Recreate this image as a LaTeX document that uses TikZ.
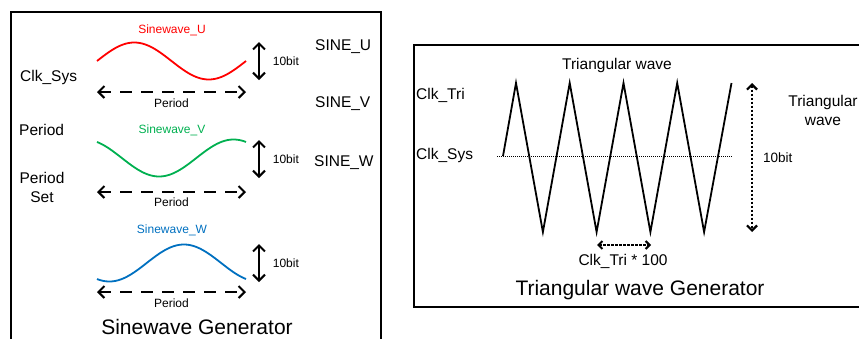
\documentclass[tikz,border=0pt]{standalone}
\usepackage{fontspec}
\setmainfont{Liberation Sans}
\usetikzlibrary{arrows.meta}

\definecolor{waveU}{RGB}{255,0,0}
\definecolor{waveV}{RGB}{0,176,80}
\definecolor{waveW}{RGB}{0,112,192}

\tikzset{
	panel/.style={draw, line width=2pt},
	wave/.style={line width=1.8pt},
	bitarrow/.style={<->, line width=1.8pt},
	periodarrow/.style={<->, line width=1.8pt, dash pattern=on 12pt off 9pt},
	dotarrow/.style={<->, line width=1.8pt, dash pattern=on 2pt off 2pt},
	bigtext/.style={font=\fontsize{21}{25}\selectfont},
	midtext/.style={font=\fontsize{15.5}{19}\selectfont},
	smalltext/.style={font=\fontsize{12}{14}\selectfont},
}

\begin{document}
\begin{tikzpicture}[x=1pt, y=-1pt, every node/.style={inner sep=0pt}, >={Straight Barb[length=6pt,width=12pt,line width=2pt]}]
	\useasboundingbox (0,0) rectangle (859,338);
	% sinewave generator
	\begin{scope}
		\draw[panel] (11,12) rectangle (381,352);
		\node[smalltext, text=waveU] (labU) at (172,30) {Sinewave\_U};
		\draw[wave, waveU] plot[domain=0:360, samples=73, smooth] ({97+\x/360*149}, {61-18.5*sin(\x)});
		\coordinate (uTop) at (259,42); \coordinate (uBot) at (259,80);
		\draw[bitarrow] (uTop) -- (uBot) node[midway, right=13pt, smalltext] (bitU) {10bit};
		\coordinate (pUa) at (97,92); \coordinate (pUb) at (246,92);
		\draw[periodarrow] (pUa) -- (pUb) node[midway, below=6pt, smalltext] (perU) {Period};

		\node[smalltext, text=waveV] (labV) at (172,130) {Sinewave\_V};
		\draw[wave, waveV] plot[domain=0:360, samples=73, smooth] ({97+\x/360*149}, {158-18.5*sin(\x+120)});
		\coordinate (vTop) at (259,140); \coordinate (vBot) at (259,178);
		\draw[bitarrow] (vTop) -- (vBot) node[midway, right=13pt, smalltext] (bitV) {10bit};
		\coordinate (pVa) at (97,192); \coordinate (pVb) at (246,192);
		\draw[periodarrow] (pVa) -- (pVb) node[midway, below=5pt, smalltext] (perV) {Period};

		\node[smalltext, text=waveW] (labW) at (172,230) {Sinewave\_W};
		\draw[wave, waveW] plot[domain=0:360, samples=73, smooth] ({97+\x/360*149}, {263-18.5*sin(\x+240)});
		\coordinate (wTop) at (259,244); \coordinate (wBot) at (259,282);
		\draw[bitarrow] (wTop) -- (wBot) node[midway, right=13pt, smalltext] (bitW) {10bit};
		\coordinate (pWa) at (97,292); \coordinate (pWb) at (246,292);
		\draw[periodarrow] (pWa) -- (pWb) node[midway, below=6pt, smalltext] (perW) {Period};

		\node[midtext, anchor=west] (clkSys) at (20,77) {Clk\_Sys};
		\node[midtext, anchor=west] (period) at (19,130) {Period};
		\node[midtext, align=center] (periodSet) at (42,187) {Period\\Set};
		\node[midtext, anchor=west] (sineU) at (315,47) {SINE\_U};
		\node[midtext, anchor=west] (sineV) at (315,104) {SINE\_V};
		\node[midtext, anchor=west] (sineW) at (314,163) {SINE\_W};
		\node[bigtext] (sineGen) at (197,327) {Sinewave Generator};
	\end{scope}
	% triangular wave generator
	\begin{scope}
		\draw[panel] (414,45) rectangle (880,307);
		\node[midtext] (triTitle) at (617,65) {Triangular wave};
		\node[midtext, anchor=west] (clkTri) at (416,95) {Clk\_Tri};
		\node[midtext, anchor=west] (clkSys2) at (416,155) {Clk\_Sys};
		\draw[line width=0.7pt, dash pattern=on 1pt off 1pt] (497,156) -- (733,156);
		\draw[wave, line join=miter] (503,156) -- (516,83) -- (542.9,232) -- (569.7,83) -- (596.6,232)
			-- (623.5,83) -- (650.4,232) -- (677.2,83) -- (704.1,232) -- (731.5,83);
		\coordinate (tTop) at (752,83); \coordinate (tBot) at (752,232);
		\draw[dotarrow, >={Straight Barb[length=5pt,width=10pt,line width=2.2pt]}] (tTop) -- (tBot);
		\node[font=\fontsize{13.5}{16}\selectfont, anchor=west] (bitTri) at (763,158) {10bit};
		\node[midtext, align=center] (triOut) at (823,110) {Triangular\\wave};
		\coordinate (cA) at (597,245); \coordinate (cB) at (651,245);
		\draw[<->, >={Straight Barb[length=4pt,width=8pt,line width=2pt]}, line width=1.5pt, dash pattern=on 2.5pt off 1.5pt] (cA) -- (cB);
		\node[midtext] (clkMul) at (623,261) {Clk\_Tri * 100};
		\node[bigtext] (triGen) at (640,290) {Triangular wave Generator};
	\end{scope}
\end{tikzpicture}
\end{document}
